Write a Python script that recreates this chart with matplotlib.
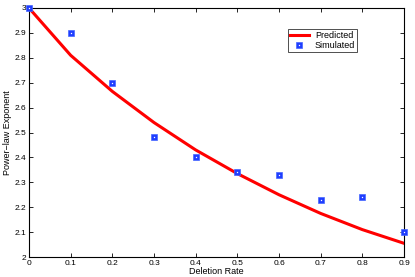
import numpy as np
import matplotlib
matplotlib.use("Agg")
import matplotlib.pyplot as plt

plt.rcParams['font.family'] = ['Liberation Sans', 'DejaVu Sans']

deletion_rate = [0.0, 0.1, 0.2, 0.3, 0.4, 0.5, 0.6, 0.7, 0.8, 0.9]
predicted = [3.0, 2.81, 2.665, 2.54, 2.43, 2.335, 2.25, 2.175, 2.11, 2.055]
simulated = [3.0, 2.90, 2.70, 2.48, 2.40, 2.34, 2.33, 2.23, 2.24, 2.10]

fig = plt.figure(figsize=(4.15, 2.77), dpi=100)
ax = fig.add_axes([29 / 415, 20 / 277, 375 / 415, 249 / 277])

line, = ax.plot(deletion_rate, predicted, color="red", linewidth=2.2)
outer, = ax.plot(deletion_rate, simulated, linestyle="none", marker="s", markersize=5,
                 markerfacecolor="#1f3dff", markeredgecolor="#4466ff", markeredgewidth=0.5,
                 clip_on=False, zorder=3)
inner, = ax.plot(deletion_rate, simulated, linestyle="none", marker="s", markersize=0.9,
                 color="white", markeredgewidth=0, clip_on=False, zorder=4)

ax.set_xlim(0, 0.9)
ax.set_ylim(2, 3)
ax.set_xticks(np.arange(0, 0.91, 0.1))
ax.set_xticklabels(["0", "0.1", "0.2", "0.3", "0.4", "0.5", "0.6", "0.7", "0.8", "0.9"])
ax.set_yticks(np.arange(2, 3.01, 0.1))
ax.set_yticklabels(["2", "2.1", "2.2", "2.3", "2.4", "2.5", "2.6", "2.7", "2.8", "2.9", "3"])
ax.tick_params(direction="in", top=True, right=True, labelsize=6, length=3, width=0.6, pad=2)
for s in ax.spines.values():
    s.set_linewidth(0.8)

ax.set_xlabel("Deletion Rate", fontsize=6.5, labelpad=0)
ax.set_ylabel("Power\u2212law Exponent", fontsize=6.5, labelpad=2)

leg = ax.legend([line, (outer, inner)], ["Predicted", "Simulated"],
                loc="upper left", bbox_to_anchor=(0.69, 0.915), fontsize=6.5,
                frameon=True, fancybox=False, edgecolor="black", borderpad=0.2,
                labelspacing=0.1, handlelength=2.2, handletextpad=0.6, borderaxespad=0)
leg.get_frame().set_linewidth(0.6)

fig.savefig("out.png", dpi=100)
